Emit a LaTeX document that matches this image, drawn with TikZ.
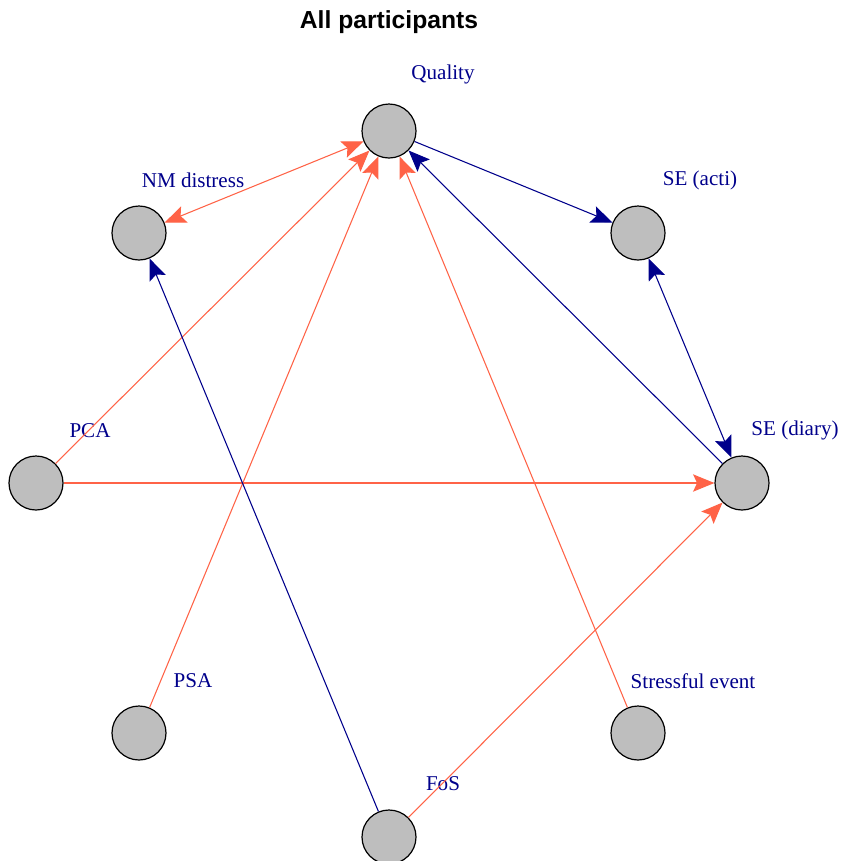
\documentclass[tikz,border=0pt]{standalone}
\usepackage{fontspec}
\setmainfont{Liberation Serif}
\setsansfont{Liberation Sans}
\usepackage{tikz}
\usetikzlibrary{arrows.meta,positioning}
\definecolor{negcol}{HTML}{FF6347}
\definecolor{poscol}{HTML}{00008B}
\definecolor{vfill}{HTML}{BEBEBE}
\tikzstyle{var} = [circle, draw=black, fill=vfill, line width=0.9pt, minimum size=40.5pt, inner sep=0pt]
\tikzstyle{lab} = [text=poscol, font=\fontsize{15.8}{18}\selectfont, inner sep=0pt]
\tikzstyle{posedge} = [draw=poscol, line width=0.8pt, -{Stealth[length=16pt,width=13pt,inset=3pt]}]
\tikzstyle{negedge} = [draw=negcol, line width=0.8pt, -{Stealth[length=16pt,width=13pt,inset=3pt]}]

\begin{document}
\begin{tikzpicture}[x=0.75pt, y=-0.75pt]
\useasboundingbox (0,0) rectangle (840,861);
\node[font=\sffamily\bfseries\fontsize{18.5}{21}\selectfont] (T) at (389,22) {All participants};
% circles
\node(Q)[var] at (389,131) {};
\node(N)[var] at (139,233) {};
\node(A)[var] at (638,233) {};
\node(P)[var] at (36,483) {};
\node(D)[var] at (742,483) {};
\node(S)[var] at (139,733) {};
\node(E)[var] at (638,733) {};
\node(F)[var] at (389,837) {};
% labels
\node(lQ)[lab] at (443,74) {Quality};
\node(lN)[lab] at (193,180) {NM distress};
\node(lA)[lab] at (700,180) {SE (acti)};
\node(lP)[lab] at (90,431) {PCA};
\node(lD)[lab] at (795,430) {SE (diary)};
\node(lS)[lab] at (193,681) {PSA};
\node(lE)[lab] at (693,681) {Stressful event};
\node(lF)[lab] at (443,784) {FoS};
% edges
\draw[negedge, {Stealth[length=16pt,width=13pt,inset=3pt]}-{Stealth[length=16pt,width=13pt,inset=3pt]}] (N)--(Q);
\draw[negedge](P)--(Q);
\draw[negedge](S)--(Q);
\draw[negedge](E)--(Q);
\draw[negedge](P)--(D);
\draw[negedge](F)--(D);
\draw[posedge](Q)--(A);
\draw[posedge](D)--(Q);
\draw[posedge, {Stealth[length=16pt,width=13pt,inset=3pt]}-{Stealth[length=16pt,width=13pt,inset=3pt]}] (A)--(D);
\draw[posedge](F)--(N);
\end{tikzpicture}
\end{document}
